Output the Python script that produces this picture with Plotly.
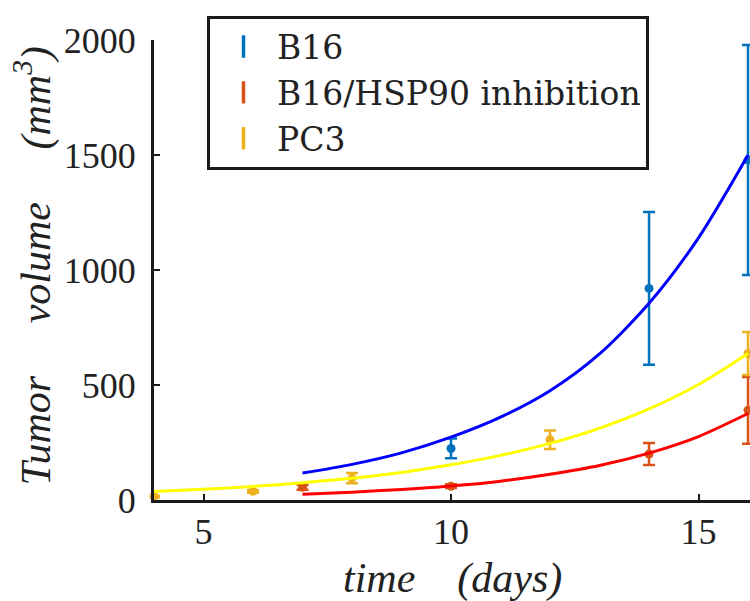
import plotly.graph_objects as go

# ---- data ----
series_names = ["B16", "B16/HSP90 inhibition", "PC3"]

b16_days = [10, 14, 16]
b16_vol = [224, 920, 1478]
b16_err = [43, 332, 500]

hsp_days = [7, 10, 14, 16]
hsp_vol = [55, 60, 200, 390]
hsp_err = [10, 8, 48, 145]

pc3_days = [4, 6, 8, 12, 16]
pc3_vol = [15, 38, 95, 262, 637]
pc3_err = [3, 6, 22, 40, 93]

# fitted curves, read at whole days
b16_fit_days = [7, 8, 9, 10, 11, 12, 13, 14, 15, 16]
b16_fit_vol = [117, 155, 205, 273, 360, 475, 635, 855, 1140, 1500]

hsp_fit_days = [7, 8, 9, 10, 11, 12, 13, 14, 15, 16]
hsp_fit_vol = [25, 34, 46, 61, 82, 112, 150, 204, 276, 376]

pc3_fit_days = [4, 5, 6, 7, 8, 9, 10, 11, 12, 13, 14, 15, 16]
pc3_fit_vol = [37, 47, 59, 75, 95, 120, 153, 194, 246, 312, 396, 502, 637]

x_ticks = [5, 10, 15]
y_ticks = [0, 500, 1000, 1500, 2000]

err_colors = ["#0072BD", "#D95319", "#EDB120"]
fit_colors = ["#0000FF", "#FF0000", "#FFFF00"]

FONT = "Liberation Serif"
LEG_FONT = "DejaVu Serif"
TXT = "#222"

fig = go.Figure()

# error bar series
for days, vol, err, col in [
    (b16_days, b16_vol, b16_err, err_colors[0]),
    (hsp_days, hsp_vol, hsp_err, err_colors[1]),
    (pc3_days, pc3_vol, pc3_err, err_colors[2]),
]:
    fig.add_trace(go.Scatter(
        x=days, y=vol, mode="markers",
        marker=dict(color=col, size=9),
        error_y=dict(type="data", array=err, color=col, thickness=2.5, width=6),
        showlegend=False, cliponaxis=False,
    ))

# fitted curves
for days, vol, col in [
    (b16_fit_days, b16_fit_vol, fit_colors[0]),
    (hsp_fit_days, hsp_fit_vol, fit_colors[1]),
    (pc3_fit_days, pc3_fit_vol, fit_colors[2]),
]:
    fig.add_trace(go.Scatter(
        x=days, y=vol, mode="lines",
        line=dict(color=col, width=3, shape="spline", smoothing=0.8),
        showlegend=False,
    ))

# legend entries
for name, col in zip(series_names, err_colors):
    fig.add_trace(go.Scatter(
        x=[None], y=[None], mode="markers", name=name,
        marker=dict(symbol="line-ns", size=26, line=dict(color=col, width=3.5)),
    ))

fig.update_layout(
    width=750, height=601,
    margin=dict(l=154, r=0, t=40, b=101),
    paper_bgcolor="white", plot_bgcolor="white",
    font=dict(family=FONT, size=36, color=TXT),
    showlegend=True,
    legend=dict(
        x=(207 - 154) / 596, y=(499.5 - 15) / 460, xanchor="left", yanchor="top",
        bgcolor="white", bordercolor="#1a1a1a", borderwidth=3,
        font=dict(family=LEG_FONT, size=33, color=TXT),
        itemwidth=57, tracegroupgap=0,
    ),
    xaxis=dict(
        range=[4, 16.04], tickvals=x_ticks, ticktext=[str(v) for v in x_ticks],
        showgrid=False, zeroline=False, showline=True, linecolor="#1a1a1a", linewidth=3,
        ticks="inside", ticklen=6, tickwidth=2, tickcolor="#1a1a1a",
        ticklabelstandoff=-2, mirror=False,
    ),
    yaxis=dict(
        range=[0, 2000], tickvals=y_ticks, ticktext=[str(v) for v in y_ticks],
        showgrid=False, zeroline=False, showline=True, linecolor="#1a1a1a", linewidth=3,
        ticks="inside", ticklen=6, tickwidth=2, tickcolor="#1a1a1a",
        ticklabelstandoff=8, mirror=False,
    ),
)

fig.add_annotation(
    text="<i>time</i>\u00a0\u00a0\u00a0\u00a0<i>(days)</i>",
    xref="paper", yref="paper", x=(452 - 154) / 596, y=-(578 - 499.5) / 460,
    xanchor="center", yanchor="middle", showarrow=False,
    font=dict(family=FONT, size=42, color=TXT),
)
fig.add_annotation(
    text="<i>Tumor</i>\u00a0\u00a0\u00a0\u00a0\u00a0<i>volume</i>\u00a0\u00a0\u00a0\u00a0\u00a0<i>(mm<sup>3</sup>)</i>",
    xref="paper", yref="paper", x=-(154 - 33) / 596, y=(499.5 - 266) / 460,
    xanchor="center", yanchor="middle", textangle=-90, showarrow=False,
    font=dict(family=FONT, size=42, color=TXT),
)

fig.write_html(
    "out.html",
    config={"displayModeBar": False},
    post_script="document.body.style.margin='0';document.body.style.overflow='hidden';",
)
